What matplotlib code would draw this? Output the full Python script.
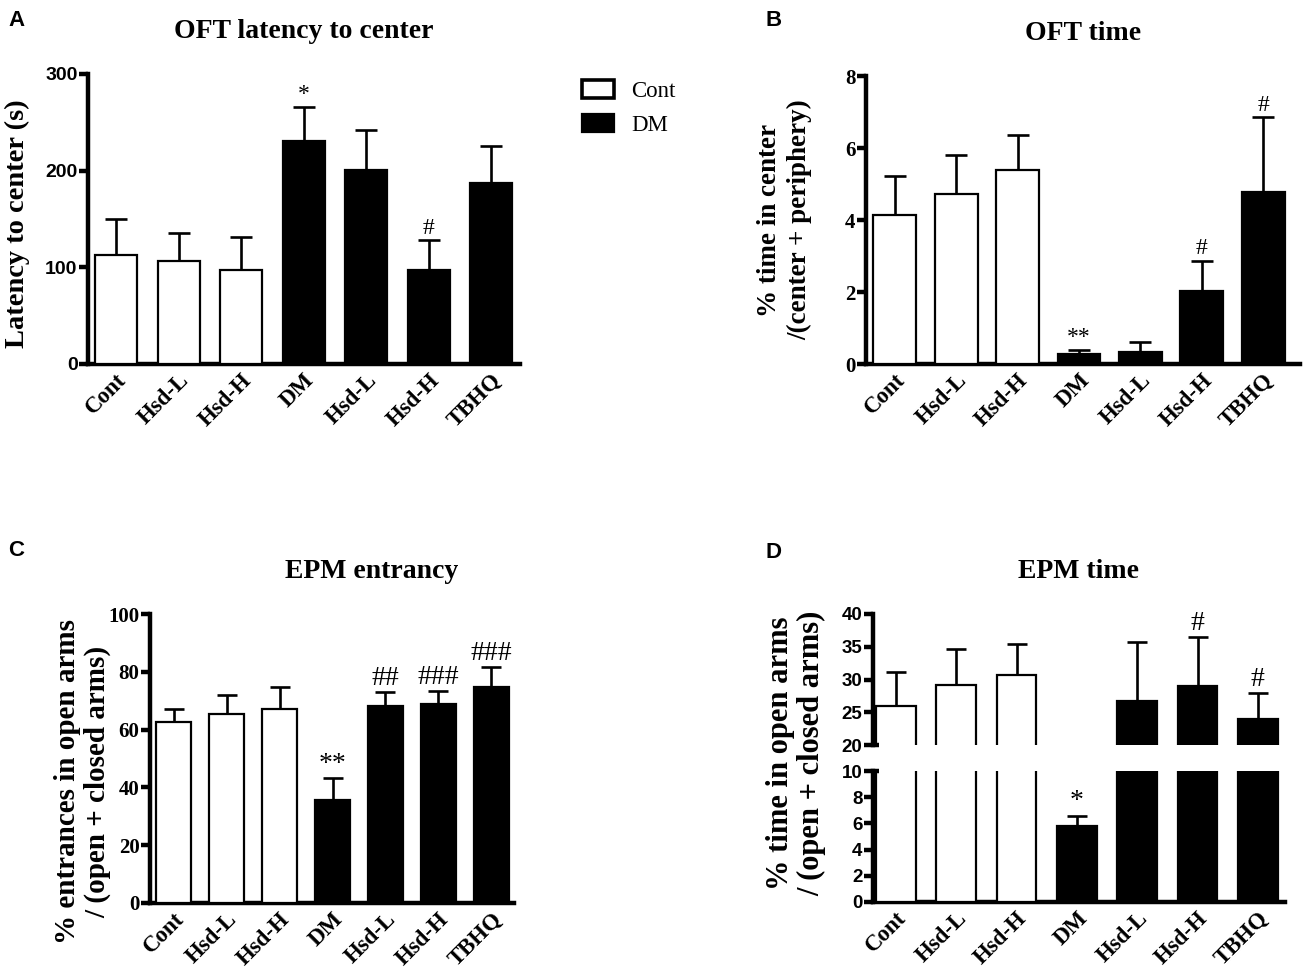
import numpy as np
import matplotlib
matplotlib.use('Agg')
import matplotlib.pyplot as plt
from matplotlib.patches import Patch

# groups shown on every panel
groups = ['Cont', 'Hsd-L', 'Hsd-H', 'DM', 'Hsd-L', 'Hsd-H', 'TBHQ']
bar_colors = ['white', 'white', 'white', 'black', 'black', 'black', 'black']

# A: OFT latency to center (s)
latency_mean = [113, 107, 97, 231, 201, 97, 187]
latency_sem = [37, 29, 34, 35, 41, 31, 39]
latency_marks = ['', '', '', '*', '', '#', '']

# B: OFT % time in center
oft_time_mean = [4.15, 4.72, 5.40, 0.28, 0.32, 2.02, 4.78]
oft_time_sem = [1.07, 1.08, 0.97, 0.12, 0.28, 0.85, 2.07]
oft_time_marks = ['', '', '', '**', '', '#', '#']

# C: EPM % entrances in open arms
entr_mean = [62.7, 65.3, 67.2, 35.8, 68.3, 68.7, 74.8]
entr_sem = [4.3, 6.5, 7.6, 7.4, 4.7, 4.6, 6.8]
entr_marks = ['', '', '', '**', '##', '###', '###']

# D: EPM % time in open arms (broken axis)
epm_time_mean = [25.9, 29.2, 30.7, 5.8, 26.7, 29.0, 24.0]
epm_time_sem = [5.2, 5.5, 4.7, 0.8, 9.0, 7.5, 3.9]
epm_time_marks = ['', '', '', '*', '', '#', '#']

SERIF = 'Liberation Serif'
SANS = 'Liberation Sans'
LW = 3.2

fig = plt.figure(figsize=(13.07, 9.73), dpi=100)
W, H = 1307.0, 973.0


def px_axes(l, r, b, t):
    # axes rectangle from pixel edges of the reference
    return fig.add_axes([l / W, 1 - b / H, (r - l) / W, (b - t) / H])


def style_axes(ax, tick_font=SERIF, tick_size=15):
    for s in ['top', 'right']:
        ax.spines[s].set_visible(False)
    for s in ['left', 'bottom']:
        ax.spines[s].set_linewidth(LW)
    ax.tick_params(axis='y', direction='out', length=6.5, width=LW, pad=1)
    ax.tick_params(axis='x', length=0, pad=4)
    for lab in ax.get_yticklabels():
        lab.set_fontfamily(tick_font)
        lab.set_fontweight('bold')
        lab.set_fontsize(tick_size)


def draw_bars(ax, means, sems, width, cap=8):
    x = np.arange(len(groups))
    ax.bar(x, means, width=width, color=bar_colors, edgecolor='black',
           linewidth=1.6, zorder=3)
    ax.errorbar(x, means, yerr=[np.zeros(len(means)), sems], fmt='none',
                ecolor='black', elinewidth=1.9, capsize=cap, capthick=1.9,
                zorder=2)
    return x


def add_marks(ax, x, means, sems, marks, size=17):
    for xi, m, s, mk in zip(x, means, sems, marks):
        if mk:
            ax.annotate(mk, (xi, m + s), xytext=(0, 1), textcoords='offset points',
                        ha='center', va='bottom', fontsize=size,
                        fontfamily=SERIF, annotation_clip=False)


def set_xlabels(ax, x):
    ax.set_xticks(x)
    ax.set_xticklabels(groups, rotation=45, ha='right', rotation_mode='anchor',
                       fontfamily=SERIF, fontweight='bold', fontsize=16.5)


def ylabel_text(xp, yp, txt, size, ls=1.25):
    fig.text(xp / W, 1 - yp / H, txt, rotation=90, ha='center', va='center',
             fontfamily=SERIF, fontweight='bold', fontsize=size, linespacing=ls)


# ---- A ----
axA = px_axes(88, 520, 364, 74)
x = draw_bars(axA, latency_mean, latency_sem, 0.67)
add_marks(axA, x, latency_mean, latency_sem, latency_marks)
axA.set_xlim(-0.45, 6.46)
axA.set_ylim(0, 300)
axA.set_yticks([0, 100, 200, 300])
set_xlabels(axA, x)
style_axes(axA, SANS, 14)
ylabel_text(17, 224, 'Latency to center (s)', 20.5)
axA.set_title('OFT latency to center', fontfamily=SERIF, fontweight='bold',
              fontsize=20, pad=26)

# legend
handles = [Patch(facecolor='white', edgecolor='black', linewidth=2.6, label='Cont'),
           Patch(facecolor='black', edgecolor='black', linewidth=1.6, label='DM')]
fig.legend(handles=handles, loc='upper left', bbox_to_anchor=(582 / W, 1 - 80 / H),
           frameon=False, prop={'family': SERIF, 'size': 16.5},
           handlelength=1.4, handleheight=0.8, handletextpad=0.75,
           labelspacing=0.55, borderpad=0, borderaxespad=0)

# ---- B ----
axB = px_axes(866, 1300, 364, 76)
x = draw_bars(axB, oft_time_mean, oft_time_sem, 0.70)
add_marks(axB, x, oft_time_mean, oft_time_sem, oft_time_marks)
axB.set_xlim(-0.47, 6.6)
axB.set_ylim(0, 8)
axB.set_yticks([0, 2, 4, 6, 8])
set_xlabels(axB, x)
style_axes(axB, SERIF, 15)
ylabel_text(785, 220, '% time in center\n/(center + periphery)', 19.5, 1.28)
axB.set_title('OFT time', fontfamily=SERIF, fontweight='bold', fontsize=20, pad=26)

# ---- C ----
axC = px_axes(150, 514, 903, 614)
x = draw_bars(axC, entr_mean, entr_sem, 0.66, cap=7)
add_marks(axC, x, entr_mean, entr_sem, entr_marks, size=20)
axC.set_xlim(-0.45, 6.43)
axC.set_ylim(0, 100)
axC.set_yticks([0, 20, 40, 60, 80, 100])
set_xlabels(axC, x)
style_axes(axC, SERIF, 15)
ylabel_text(83, 782, '% entrances in open arms\n/ (open + closed arms)', 21, 1.13)
axC.set_title('EPM entrancy', fontfamily=SERIF, fontweight='bold', fontsize=20,
              pad=26, x=0.61)

# ---- D (broken y axis) ----
axDt = px_axes(873, 1285, 745, 614)
axDb = px_axes(873, 1285, 902, 771)
for ax in (axDt, axDb):
    x = draw_bars(ax, epm_time_mean, epm_time_sem, 0.66, cap=7)
    ax.set_xlim(-0.38, 6.45)
upper = [0, 1, 2, 4, 5, 6]
add_marks(axDt, x[upper], np.array(epm_time_mean)[upper],
          np.array(epm_time_sem)[upper], [epm_time_marks[i] for i in upper], size=20)
add_marks(axDb, x[[3]], [epm_time_mean[3]], [epm_time_sem[3]],
          [epm_time_marks[3]], size=20)
axDt.set_ylim(20, 40)
axDt.set_yticks([20, 25, 30, 35, 40])
axDb.set_ylim(0, 10)
axDb.set_yticks([0, 2, 4, 6, 8, 10])
set_xlabels(axDb, x)
style_axes(axDt, SANS, 13.5)
style_axes(axDb, SANS, 13.5)
axDt.spines['bottom'].set_visible(False)
axDt.tick_params(axis='x', length=0, labelbottom=False)
# short break marks on the inside of the axis
for ax, yv in ((axDt, 20), (axDb, 10)):
    ax.plot([0, 0.014], [yv, yv], color='black', lw=LW, solid_capstyle='butt',
            transform=ax.get_yaxis_transform(), clip_on=False, zorder=4)
axDt.set_title('EPM time', fontfamily=SERIF, fontweight='bold', fontsize=20, pad=26)
ylabel_text(796, 753, '% time in open arms\n/ (open + closed arms)', 22, 1.1)

# panel letters
for lab, px, py in (('A', 8, 20), ('B', 766, 20), ('C', 8, 550), ('D', 766, 552)):
    fig.text(px / W, 1 - py / H, lab, fontfamily=SANS, fontweight='bold',
             fontsize=16, va='center', ha='left')

fig.savefig('out.png', dpi=100)
